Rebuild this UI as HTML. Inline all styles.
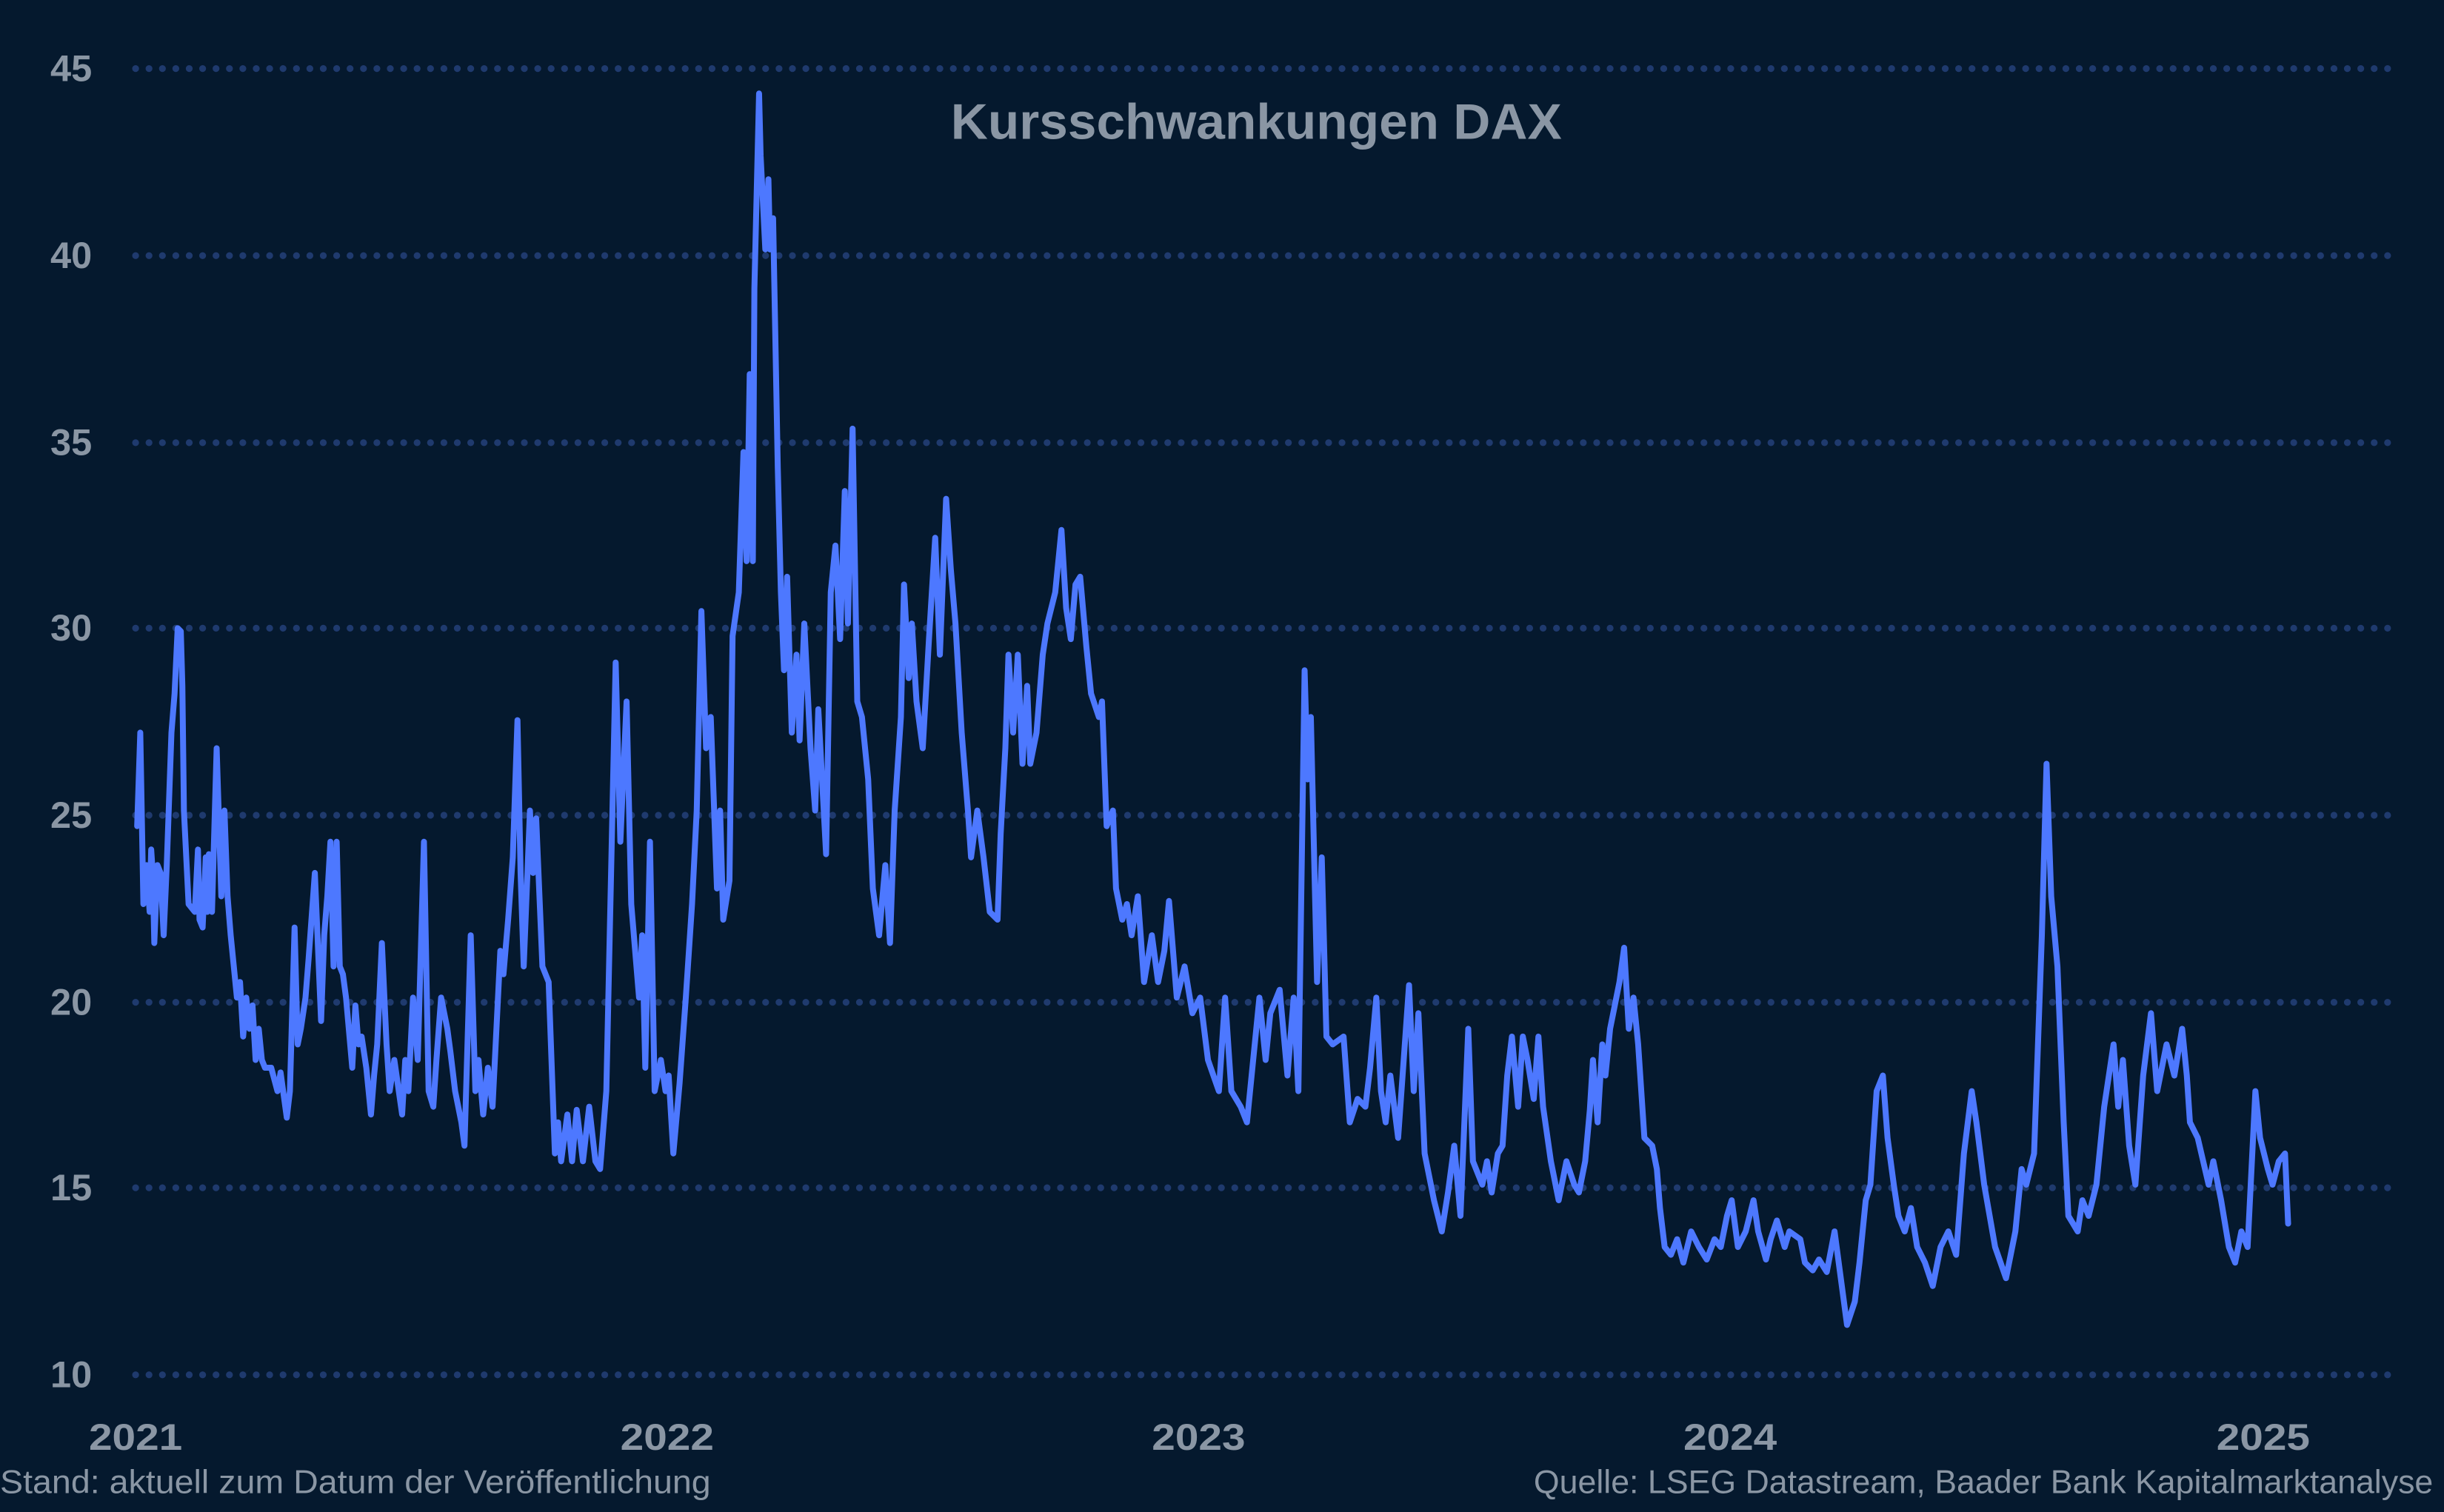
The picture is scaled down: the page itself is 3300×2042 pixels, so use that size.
<!DOCTYPE html>
<html><head><meta charset="utf-8"><style>
html,body{margin:0;padding:0;background:#051a2e;}
svg{display:block;}
</style></head><body>
<svg width="3300" height="2042" viewBox="0 0 1568 970" preserveAspectRatio="none" xmlns="http://www.w3.org/2000/svg">
<rect width="1568" height="970" fill="#05192e"/>
<g stroke="#1f3a6e" stroke-width="4.4" stroke-linecap="round" stroke-dasharray="0 8.6" fill="none">
<line x1="87" y1="44" x2="1532" y2="44"/>
<line x1="87" y1="164" x2="1532" y2="164"/>
<line x1="87" y1="284" x2="1532" y2="284"/>
<line x1="87" y1="403" x2="1532" y2="403"/>
<line x1="87" y1="523" x2="1532" y2="523"/>
<line x1="87" y1="643" x2="1532" y2="643"/>
<line x1="87" y1="762" x2="1532" y2="762"/>
<line x1="87" y1="882" x2="1532" y2="882"/>
</g>
<g font-family="Liberation Sans, sans-serif" font-weight="bold" fill="#8a96a4" font-size="24" text-anchor="end">
<text x="59" y="52">45</text>
<text x="59" y="172">40</text>
<text x="59" y="292">35</text>
<text x="59" y="411">30</text>
<text x="59" y="531">25</text>
<text x="59" y="651">20</text>
<text x="59" y="770">15</text>
<text x="59" y="890">10</text>
</g>
<g font-family="Liberation Sans, sans-serif" font-weight="bold" fill="#8a96a4" font-size="24" text-anchor="middle">
<text x="87" y="930" textLength="60" lengthAdjust="spacingAndGlyphs">2021</text>
<text x="428" y="930" textLength="60" lengthAdjust="spacingAndGlyphs">2022</text>
<text x="769" y="930" textLength="60" lengthAdjust="spacingAndGlyphs">2023</text>
<text x="1110" y="930" textLength="60" lengthAdjust="spacingAndGlyphs">2024</text>
<text x="1452" y="930" textLength="60" lengthAdjust="spacingAndGlyphs">2025</text>
</g>
<text x="806" y="89" font-family="Liberation Sans, sans-serif" font-weight="bold" fill="#8a96a4" font-size="32" text-anchor="middle" textLength="392" lengthAdjust="spacingAndGlyphs">Kursschwankungen DAX</text>
<text x="0" y="958" font-family="Liberation Sans, sans-serif" fill="#8a96a4" font-size="21" textLength="456" lengthAdjust="spacingAndGlyphs">Stand: aktuell zum Datum der Veröffentlichung</text>
<text x="1561" y="958" font-family="Liberation Sans, sans-serif" fill="#8a96a4" font-size="21" text-anchor="end" textLength="577" lengthAdjust="spacingAndGlyphs">Quelle: LSEG Datastream, Baader Bank Kapitalmarktanalyse</text>
<polyline fill="none" stroke="#4d78ff" stroke-width="3.8" stroke-linejoin="round" stroke-linecap="round" points="
88,530 90,470 92,580 94,555 96,585 97,545 98,560 99,605 101,555 103,560 105,600 107,555 110,470 112,445 114,403 116,405 117,440 118,520 121,580 125,585 127,545 128,590 130,595 132,550 133,585 134,548 136,585 139,480 142,575 144,520 146,575 148,600 150,620 152,640 154,630 156,665 158,640 160,660 162,645 164,680 166,660 168,680 170,685 174,685 178,700 180,688 184,717 186,700 189,595 191,670 193,660 196,640 198,615 202,560 206,655 208,600 210,575 212,540 214,620 216,540 218,620 220,625 222,640 226,685 228,645 230,670 232,665 235,685 238,715 240,690 242,670 245,605 248,670 250,700 253,680 258,715 260,680 262,700 265,640 268,680 272,540 275,700 278,710 280,680 283,640 287,660 289,675 292,700 296,720 298,735 302,600 305,700 307,680 310,715 313,685 316,710 318,670 321,610 323,625 326,590 329,550 332,462 334,560 336,620 340,520 342,560 344,525 348,620 352,630 356,740 358,720 360,745 364,715 367,745 370,712 374,745 378,710 382,745 385,750 389,700 395,425 398,540 402,450 405,580 410,640 412,600 414,685 417,540 420,700 424,680 427,700 429,690 432,740 436,695 440,640 444,580 447,520 450,392 453,480 456,460 460,570 462,520 464,590 468,565 470,408 474,380 477,290 479,360 481,240 483,360 484,185 487,60 488,100 491,160 493,115 494,160 496,140 499,300 501,380 503,430 505,370 508,470 511,420 513,475 516,400 520,480 523,520 525,455 530,548 533,380 536,350 539,410 542,315 544,400 547,275 550,450 553,460 557,500 560,570 564,600 568,555 571,605 574,520 578,460 580,375 583,435 585,400 588,450 592,480 596,410 600,345 603,420 607,320 610,365 613,400 617,470 621,520 623,550 627,520 631,550 635,585 640,590 642,535 645,480 647,420 650,470 653,420 656,490 659,440 661,490 665,470 669,420 672,400 677,380 681,340 684,390 687,410 690,375 693,370 697,415 700,445 705,460 707,450 710,530 714,520 716,570 720,590 723,580 726,600 730,575 734,630 739,600 743,630 747,610 750,578 755,640 760,620 765,650 770,640 775,680 782,700 786,640 790,700 796,710 800,720 803,690 808,640 812,680 815,650 821,635 826,690 830,640 833,700 837,430 839,500 841,460 845,630 848,550 851,665 855,670 862,665 866,720 871,705 876,710 879,685 883,640 886,700 889,720 892,690 897,730 904,632 907,700 910,650 914,740 920,770 925,790 929,765 933,735 937,780 942,660 945,745 949,755 951,760 954,745 957,765 961,740 964,735 967,690 970,665 974,710 977,665 980,680 984,705 987,665 990,710 995,745 1000,770 1005,745 1010,760 1013,765 1017,745 1020,712 1022,680 1025,720 1028,670 1030,690 1033,660 1039,630 1042,608 1045,660 1048,640 1051,670 1055,730 1060,735 1063,750 1065,775 1068,800 1072,805 1076,795 1080,810 1085,790 1090,800 1095,808 1100,795 1104,800 1108,780 1111,770 1115,800 1120,790 1125,770 1128,790 1133,808 1136,795 1140,783 1145,800 1148,790 1155,795 1158,810 1163,815 1167,808 1172,816 1177,790 1181,820 1185,850 1190,835 1193,810 1197,770 1200,760 1204,700 1208,690 1211,730 1215,760 1218,780 1222,790 1226,775 1230,800 1235,810 1240,825 1245,800 1250,790 1255,805 1260,740 1265,700 1268,720 1273,760 1280,800 1287,820 1293,790 1297,750 1300,760 1305,740 1310,600 1313,490 1316,575 1320,620 1324,720 1327,780 1333,790 1336,770 1340,780 1345,760 1350,710 1356,670 1359,710 1362,680 1366,735 1370,760 1375,690 1380,650 1384,700 1390,670 1395,690 1400,660 1403,690 1405,720 1410,730 1417,760 1420,745 1425,770 1430,800 1434,810 1438,790 1442,800 1447,700 1450,730 1455,750 1458,760 1462,745 1466,740 1468,785"/>
</svg>
</body></html>
